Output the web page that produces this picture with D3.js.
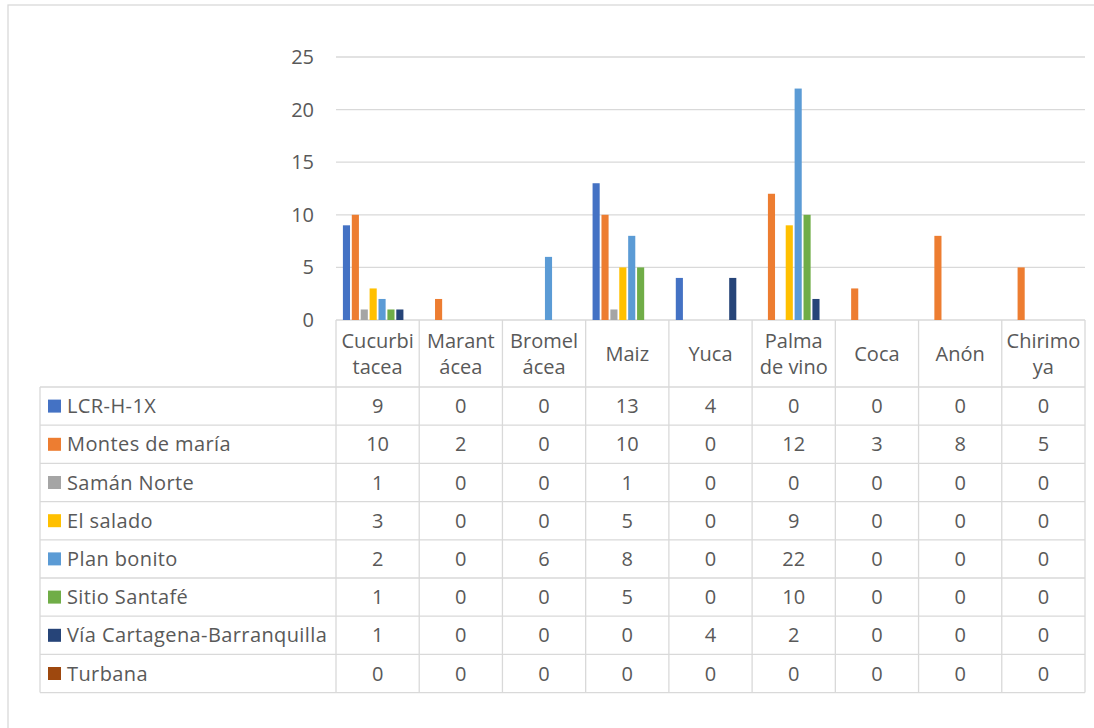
<!DOCTYPE html>
<html>
<head>
<meta charset="utf-8">
<script src="https://cdn.jsdelivr.net/npm/d3@7"></script>
<style>
	body { margin: 0; background: #fff; }
	svg text { font-family: "Open Sans", "Noto Sans", sans-serif; fill: #595959; }
</style>
</head>
<body>
<svg id="chart" width="1094" height="728"></svg>
<script>
// categories (columns) - each label split on lines as in the original
var categories = ["Cucurbitacea", "Marantácea", "Bromelácea", "Maiz", "Yuca", "Palma de vino", "Coca", "Anón", "Chirimoya"];
var categoryLines = [["Cucurbi", "tacea"], ["Marant", "ácea"], ["Bromel", "ácea"], ["Maiz"], ["Yuca"], ["Palma", "de vino"], ["Coca"], ["Anón"], ["Chirimo", "ya"]];

var series = ["LCR-H-1X", "Montes de maría", "Samán Norte", "El salado", "Plan bonito", "Sitio Santafé", "Vía Cartagena-Barranquilla", "Turbana"];
var colors = ["#4472C4", "#ED7D31", "#A5A5A5", "#FFC000", "#5B9BD5", "#70AD47", "#264478", "#9E480E"];

var values = [
	[9, 0, 0, 13, 4, 0, 0, 0, 0],
	[10, 2, 0, 10, 0, 12, 3, 8, 5],
	[1, 0, 0, 1, 0, 0, 0, 0, 0],
	[3, 0, 0, 5, 0, 9, 0, 0, 0],
	[2, 0, 6, 8, 0, 22, 0, 0, 0],
	[1, 0, 0, 5, 0, 10, 0, 0, 0],
	[1, 0, 0, 0, 4, 2, 0, 0, 0],
	[0, 0, 0, 0, 0, 0, 0, 0, 0]
];

var yTicks = [0, 5, 10, 15, 20, 25];

var svg = d3.select('#chart');
var plotLeft = 336, plotRight = 1085, plotTop = 57, plotBottom = 320;
var tableLeft = 40, headerBottom = 387, rowH = 38.2;
var gridColor = "#d9d9d9";
var fs = 20;

// outer chart border
svg.append('rect')
	.attr('x', 8).attr('y', 5)
	.attr('width', 1200).attr('height', 800)
	.attr('fill', 'none')
	.attr('stroke', gridColor)
	.attr('stroke-width', 1.3);

var x = d3.scaleBand().domain(categories).range([plotLeft, plotRight]);
var y = d3.scaleLinear().domain([0, 25]).range([plotBottom, plotTop]);
var pad = x.bandwidth() * 0.083;
var x1 = d3.scaleBand().domain(series).range([pad, x.bandwidth() - pad]).paddingInner(0.2);

// gridlines
svg.append('g').selectAll('line').data(yTicks).join('line')
	.attr('x1', plotLeft).attr('x2', plotRight)
	.attr('y1', function(d){ return y(d); })
	.attr('y2', function(d){ return y(d); })
	.attr('stroke', gridColor)
	.attr('stroke-width', 1.3);

// y tick labels
svg.append('g').selectAll('text').data(yTicks).join('text')
	.attr('x', 314)
	.attr('y', function(d){ return y(d); })
	.attr('dy', '0.35em')
	.attr('text-anchor', 'end')
	.attr('font-size', fs)
	.text(function(d){ return d; });

// bars
series.forEach(function(s, si){
	svg.append('g').selectAll('rect').data(values[si]).join('rect')
		.attr('x', function(d, ci){ return x(categories[ci]) + x1(s); })
		.attr('width', x1.bandwidth())
		.attr('y', function(d){ return y(d); })
		.attr('height', function(d){ return y(0) - y(d); })
		.attr('fill', colors[si]);
});

// data table
var tableBottom = headerBottom + rowH * series.length;
var tg = svg.append('g');

// vertical lines at category boundaries
var bounds = categories.map(function(c){ return x(c); }).concat([plotRight]);
tg.selectAll('line.v').data(bounds).join('line')
	.attr('class', 'v')
	.attr('x1', function(d){ return d; }).attr('x2', function(d){ return d; })
	.attr('y1', plotBottom).attr('y2', tableBottom)
	.attr('stroke', gridColor).attr('stroke-width', 1.3);
// left edge of legend column
tg.append('line')
	.attr('x1', tableLeft).attr('x2', tableLeft)
	.attr('y1', headerBottom).attr('y2', tableBottom)
	.attr('stroke', gridColor).attr('stroke-width', 1.3);
// horizontal row lines
var rowLines = d3.range(series.length + 1).map(function(i){ return headerBottom + i * rowH; });
tg.selectAll('line.h').data(rowLines).join('line')
	.attr('class', 'h')
	.attr('x1', tableLeft).attr('x2', plotRight)
	.attr('y1', function(d){ return d; }).attr('y2', function(d){ return d; })
	.attr('stroke', gridColor).attr('stroke-width', 1.3);

// category header labels
categoryLines.forEach(function(lines, ci){
	var cx = x(categories[ci]) + x.bandwidth() / 2;
	var cy = (plotBottom + headerBottom) / 2;
	var t = tg.append('text')
		.attr('text-anchor', 'middle')
		.attr('font-size', fs);
	lines.forEach(function(l, li){
		t.append('tspan')
			.attr('x', cx)
			.attr('y', cy + (li - (lines.length - 1) / 2) * 26)
			.attr('dy', '0.35em')
			.text(l);
	});
});

// legend rows + values
series.forEach(function(s, si){
	var cy = headerBottom + si * rowH + rowH / 2;
	tg.append('rect')
		.attr('x', 48).attr('y', cy - 6.5)
		.attr('width', 13).attr('height', 13)
		.attr('fill', colors[si]);
	tg.append('text')
		.attr('x', 67).attr('y', cy)
		.attr('dy', '0.35em')
		.attr('font-size', fs)
		.attr('letter-spacing', 0.4)
		.text(s);
	values[si].forEach(function(v, ci){
		tg.append('text')
			.attr('x', x(categories[ci]) + x.bandwidth() / 2)
			.attr('y', cy)
			.attr('dy', '0.35em')
			.attr('text-anchor', 'middle')
			.attr('font-size', fs)
			.text(v);
	});
});
</script>
</body>
</html>
